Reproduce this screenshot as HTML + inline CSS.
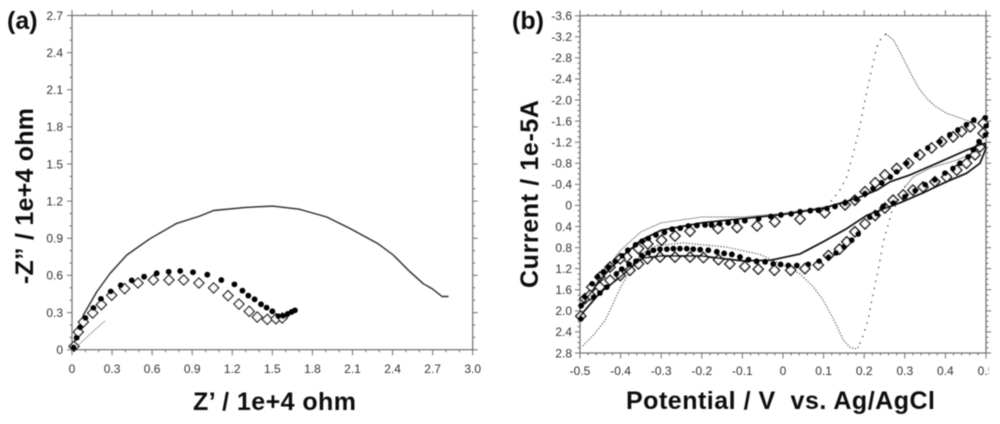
<!DOCTYPE html>
<html>
<head>
<meta charset="utf-8">
<title>Impedance and cyclic voltammetry charts</title>
<style>
html,body{margin:0;padding:0;background:#fff;width:1000px;height:424px;overflow:hidden}
svg{display:block}
text{font-family:"Liberation Sans",sans-serif}
.tick{font-size:12px;fill:#333}
.title{font-size:25px;font-weight:bold;fill:#111;white-space:pre}
</style>
</head>
<body>
<svg id="figure" xmlns="http://www.w3.org/2000/svg" width="1000" height="424" viewBox="0 0 1000 424">
<defs><filter id="soft" x="-2%" y="-2%" width="104%" height="104%"><feGaussianBlur stdDeviation="0.45"/></filter></defs>
<rect width="1000" height="424" fill="#fff"/>
<g id="root" filter="url(#soft)">
<text class="title" x="7" y="29">(a)</text>
<text class="title" x="512" y="29">(b)</text>
<text class="title" x="193" y="410" textLength="163">Z’ / 1e+4 ohm</text>
<text class="title" transform="translate(33,284) rotate(-90)" textLength="176">-Z” / 1e+4 ohm</text>
<text class="title" x="626" y="409" textLength="309" xml:space="preserve">Potential / V  vs. Ag/AgCl</text>
<text class="title" transform="translate(538,288) rotate(-90)" textLength="188">Current / 1e-5A</text>
</g>
</svg>
<script>
// Panel (a) tick labels (y labels listed bottom to top)
const aXTicks = ["0","0.3","0.6","0.9","1.2","1.5","1.8","2.1","2.4","2.7","3.0"];
const aYTicks = ["0","0.3","0.6","0.9","1.2","1.5","1.8","2.1","2.4","2.7"];
// Panel (b) tick labels (y labels listed bottom to top; the axis is inverted)
const bXTicks = ["-0.5","-0.4","-0.3","-0.2","-0.1","0","0.1","0.2","0.3","0.4","0.5"];
const bYTicks = ["2.8","2.4","2.0","1.6","1.2","0.8","0.4","0","-0.4","-0.8","-1.2","-1.6","-2.0","-2.4","-2.8","-3.2","-3.6"];

// Panel (a) series: [Z', -Z'']
const aSolid = [[0,0],[0.04,0.13],[0.085,0.28],[0.185,0.467],[0.284,0.615],[0.41,0.765],[0.584,0.897],[0.783,1.02],[0.958,1.08],[1.06,1.125],[1.3,1.15],[1.5,1.16],[1.7,1.135],[1.907,1.072],[2.08,0.98],[2.29,0.857],[2.405,0.765],[2.53,0.63],[2.63,0.533],[2.70,0.49],[2.77,0.43],[2.815,0.43]];
const aGray = [[0.02,0.01],[0.08,0.07],[0.15,0.14],[0.247,0.232]];
const aDots = [[0.012,0.02],[0.035,0.097],[0.06,0.18],[0.10,0.256],[0.16,0.337],[0.217,0.41],[0.29,0.47],[0.365,0.52],[0.447,0.56],[0.54,0.59],[0.634,0.617],[0.724,0.63],[0.81,0.636],[0.906,0.626],[1.013,0.606],[1.118,0.563],[1.216,0.528],[1.276,0.477],[1.32,0.437],[1.367,0.407],[1.415,0.367],[1.457,0.34],[1.5,0.31],[1.544,0.27],[1.58,0.272],[1.614,0.289],[1.644,0.305],[1.669,0.318]];
const aDiamonds = [[0.015,0.027],[0.047,0.143],[0.085,0.224],[0.155,0.297],[0.22,0.364],[0.297,0.44],[0.394,0.493],[0.494,0.539],[0.609,0.563],[0.726,0.563],[0.836,0.563],[0.95,0.539],[1.06,0.499],[1.168,0.437],[1.25,0.369],[1.327,0.31],[1.387,0.264],[1.462,0.245],[1.527,0.25],[1.574,0.256]];

// Panel (b) series: [potential, current]
const bSolid = [[-0.5,2.1],[-0.45,1.65],[-0.40,1.35],[-0.37,1.15],[-0.345,1.0],[-0.3,0.96],[-0.2,0.96],[-0.16,1.0],[-0.1,1.05],[-0.03,1.04],[0.042,0.92],[0.099,0.69],[0.157,0.44],[0.206,0.19],[0.288,-0.05],[0.345,-0.24],[0.403,-0.45],[0.452,-0.61],[0.485,-0.8],[0.5,-1.08],[0.498,-1.18],[0.452,-1.05],[0.379,-0.8],[0.313,-0.58],[0.264,-0.45],[0.231,-0.29],[0.18,-0.13],[0.1,0.05],[0,0.17],[-0.1,0.25],[-0.2,0.33],[-0.3,0.47],[-0.35,0.66],[-0.4,1.0],[-0.45,1.4],[-0.5,1.95]];
const bGrayRise = [[0.108,0.02],[0.14,-0.29],[0.157,-0.54],[0.172,-0.95],[0.19,-1.52],[0.202,-2.0],[0.218,-2.57],[0.231,-3.01],[0.243,-3.19],[0.254,-3.25]];
const bGrayTail = [[0.254,-3.25],[0.272,-3.14],[0.292,-2.85],[0.321,-2.41],[0.337,-2.2],[0.354,-2.03],[0.375,-1.88],[0.403,-1.75],[0.461,-1.59],[0.498,-1.53]];
const bGrayBack = [[0.5,-1.1],[0.428,-0.86],[0.362,-0.71],[0.321,-0.54],[0.3,-0.35]];
const bGrayFall = [[0.3,-0.35],[0.28,-0.04],[0.268,0.125],[0.247,0.69],[0.235,1.2],[0.224,1.6],[0.21,2.15],[0.198,2.46],[0.185,2.69]];
const bGrayValley = [[0.185,2.69],[0.177,2.72],[0.165,2.69],[0.149,2.56],[0.124,2.15],[0.099,1.8],[0.075,1.55],[0.042,1.3],[0,1.13],[-0.057,0.93],[-0.139,0.79],[-0.246,0.71],[-0.311,0.76],[-0.35,0.93],[-0.373,1.2],[-0.4,1.55],[-0.42,1.89],[-0.438,2.18],[-0.467,2.46],[-0.496,2.69]];
const bGrayUpper = [[-0.5,2.0],[-0.45,1.35],[-0.4,0.85],[-0.35,0.5],[-0.3,0.33],[-0.2,0.22],[-0.1,0.22],[0,0.15],[0.108,0.02]];
const bDotsUpper = [[0.498,-1.66],[0.470,-1.62],[0.452,-1.53],[0.431,-1.43],[0.411,-1.34],[0.387,-1.21],[0.357,-1.09],[0.329,-0.96],[0.305,-0.80],[0.280,-0.64],[0.264,-0.54],[0.243,-0.43],[0.222,-0.32],[0.202,-0.23],[0.180,-0.12],[0.153,-0.04],[0.128,0.02],[0.108,0.06],[0.087,0.09],[0.067,0.10],[0.042,0.12],[0.020,0.16],[-0.005,0.18],[-0.03,0.21],[-0.06,0.25],[-0.094,0.29],[-0.115,0.31],[-0.135,0.33],[-0.156,0.35],[-0.176,0.37],[-0.192,0.37],[-0.212,0.38],[-0.233,0.39],[-0.253,0.43],[-0.273,0.45],[-0.292,0.51],[-0.313,0.56],[-0.332,0.63],[-0.347,0.68],[-0.363,0.75],[-0.382,0.85],[-0.396,0.96],[-0.413,1.06],[-0.428,1.17],[-0.442,1.26],[-0.456,1.35],[-0.470,1.49],[-0.488,1.74],[-0.497,1.9]];
const bDotsLower = [[-0.498,2.15],[-0.467,1.74],[-0.451,1.66],[-0.434,1.55],[-0.41,1.30],[-0.397,1.21],[-0.379,1.12],[-0.362,1.06],[-0.348,0.95],[-0.332,0.90],[-0.319,0.85],[-0.303,0.83],[-0.286,0.83],[-0.27,0.82],[-0.254,0.82],[-0.237,0.82],[-0.221,0.83],[-0.204,0.84],[-0.184,0.85],[-0.163,0.88],[-0.145,0.91],[-0.126,0.93],[-0.106,0.98],[-0.085,1.03],[-0.065,1.06],[-0.044,1.07],[-0.024,1.11],[-0.006,1.12],[0.013,1.14],[0.034,1.14],[0.062,1.12],[0.089,1.06],[0.112,0.98],[0.131,0.90],[0.15,0.79],[0.169,0.66],[0.185,0.54],[0.214,0.22],[0.231,0.16],[0.247,0.02],[0.272,-0.05],[0.30,-0.17],[0.325,-0.28],[0.35,-0.39],[0.374,-0.48],[0.399,-0.61],[0.419,-0.70],[0.436,-0.80],[0.456,-0.92],[0.469,-1.05],[0.483,-1.21],[0.498,-1.34],[0.5,-1.51]];
const bDiamondsUpper = [[0.493,-1.56],[0.461,-1.49],[0.44,-1.40],[0.419,-1.30],[0.391,-1.21],[0.366,-1.09],[0.337,-0.96],[0.309,-0.80],[0.28,-0.70],[0.251,-0.58],[0.227,-0.43],[0.202,-0.26],[0.177,-0.10],[0.153,-0.01],[0.103,0.14],[0.042,0.26],[-0.02,0.31],[-0.064,0.39],[-0.113,0.42],[-0.16,0.44],[-0.229,0.49],[-0.266,0.58],[-0.299,0.66],[-0.333,0.73],[-0.356,0.82],[-0.385,0.98],[-0.401,1.01],[-0.426,1.17],[-0.451,1.36],[-0.471,1.55],[-0.488,1.77]];
const bDiamondsLower = [[-0.498,2.1],[-0.475,1.70],[-0.451,1.55],[-0.426,1.42],[-0.401,1.33],[-0.377,1.23],[-0.356,1.11],[-0.334,1.01],[-0.303,0.98],[-0.266,0.98],[-0.229,0.98],[-0.196,0.99],[-0.159,1.03],[-0.131,1.11],[-0.094,1.16],[-0.061,1.21],[-0.021,1.23],[0.019,1.23],[0.054,1.20],[0.087,1.13],[0.112,0.95],[0.139,0.83],[0.157,0.69],[0.177,0.50],[0.202,0.35],[0.227,0.19],[0.251,0.05],[0.271,-0.10],[0.296,-0.20],[0.32,-0.29],[0.345,-0.35],[0.374,-0.45],[0.403,-0.54],[0.428,-0.67],[0.452,-0.80],[0.473,-0.96],[0.485,-1.11],[0.493,-1.37]];

const NS = 'http://www.w3.org/2000/svg';
const root = document.getElementById('root');

function make(tag, attrs, parent) {
  const el = document.createElementNS(NS, tag);
  for (const k in attrs) el.setAttribute(k, attrs[k]);
  parent.appendChild(el);
  return el;
}
function group(name) {
  const g = make('g', {}, root);
  
  
  return g;
}

// Axis functions
const A = {L:72, R:472.7, T:15.5, B:349.7};
const B = {L:580, R:986, T:15.7, B:353};
const axA = {x: v => A.L + v / 3 * (A.R - A.L), y: v => A.B - v / 2.7 * (A.B - A.T)};
const axB = {x: v => B.L + (v + 0.5) * (B.R - B.L), y: v => B.T + (v + 3.6) / 6.4 * (B.B - B.T)};

function drawFrame(name, box, xLabels, yLabels, xMinor, yMinor, xBase, yRight) {
  const g = group(name + '-axes');
  const frame = make('rect', {x:box.L, y:box.T, width:box.R - box.L, height:box.B - box.T, fill:'none', stroke:'#6e6e6e', 'stroke-width':1.2}, g);
  
  
  let d = '';
  const nx = xLabels.length - 1, ny = yLabels.length - 1;
  for (let i = 0; i <= nx * xMinor; i++) {
    const px = box.L + (box.R - box.L) * i / (nx * xMinor);
    const major = i % xMinor === 0;
    d += `M${px} ${box.T}v${major ? -5.5 : -2}M${px} ${box.B}v${major ? 5.5 : 2.5}`;
  }
  for (let i = 0; i <= ny * yMinor; i++) {
    const py = box.T + (box.B - box.T) * i / (ny * yMinor);
    const major = i % yMinor === 0;
    d += `M${box.L} ${py}h${major ? -5 : -2.5}M${box.R} ${py}h${major ? 5 : 2.5}`;
  }
  const ticks = make('path', {d:d, fill:'none', stroke:'#6e6e6e', 'stroke-width':1}, g);
  
  
  xLabels.forEach((t, i) => {
    const el = make('text', {class:'tick', x:box.L + (box.R - box.L) * i / nx, y:xBase, 'text-anchor':'middle'}, g);
    el.textContent = t;
    
    
  });
  yLabels.forEach((t, i) => {
    const el = make('text', {class:'tick', x:yRight, y:box.B - (box.B - box.T) * i / ny + 4.3, 'text-anchor':'end'}, g);
    el.textContent = t;
    
    
  });
}

function drawLine(name, data, ax, stroke, width, dash) {
  const pts = data.map(p => ax.x(p[0]).toFixed(1) + ',' + ax.y(p[1]).toFixed(1)).join(' ');
  const attrs = {points:pts, fill:'none', stroke:stroke, 'stroke-width':width, 'stroke-linejoin':'round', 'stroke-linecap':'round'};
  if (dash) attrs['stroke-dasharray'] = dash;
  const el = make('polyline', attrs, root);
  
  
}
function drawDiamonds(name, data, ax, size, sw) {
  const g = group(name);
  data.forEach(p => {
    const x = ax.x(p[0]), y = ax.y(p[1]);
    const el = make('polygon', {points:`${x},${y - size} ${x + size},${y} ${x},${y + size} ${x - size},${y}`, fill:'#fff', stroke:'#111', 'stroke-width':sw}, g);
    
    
  });
}
function drawDots(name, data, ax, r) {
  const g = group(name);
  data.forEach(p => {
    const el = make('circle', {cx:ax.x(p[0]), cy:ax.y(p[1]), r:r, fill:'#050505'}, g);
    
    
  });
}

// Panel (a)
drawFrame('panel-a', A, aXTicks, aYTicks, 3, 3, 373, 63);
drawLine('panel-a-gray-dotted-series', aGray, axA, '#888', 1, '1.2 1.6');
drawLine('panel-a-solid-series', aSolid, axA, '#2c2c2c', 1.4);
drawDiamonds('panel-a-diamond-series', aDiamonds, axA, 5, 1.3);
drawDots('panel-a-filled-series', aDots, axA, 2.9);

// Panel (b)
drawFrame('panel-b', B, bXTicks, bYTicks, 5, 4, 375, 572);
drawLine('panel-b-gray-upper', bGrayUpper, axB, '#777', 1, '1 1.5');
drawLine('panel-b-gray-rise', bGrayRise, axB, '#555', 1.5, '0.1 7');
drawLine('panel-b-gray-tail', bGrayTail, axB, '#555', 1.3, '0.1 2.6');
drawLine('panel-b-gray-back', bGrayBack, axB, '#888', 1, '1.5 1');
drawLine('panel-b-gray-fall', bGrayFall, axB, '#555', 1.5, '0.1 7');
drawLine('panel-b-gray-valley', bGrayValley, axB, '#555', 1.3, '0.1 2.8');
drawDiamonds('panel-b-diamond-upper-series', bDiamondsUpper, axB, 5, 1.5);
drawDiamonds('panel-b-diamond-lower-series', bDiamondsLower, axB, 5, 1.5);
drawLine('panel-b-solid-series', bSolid, axB, '#111', 1.7);
drawDots('panel-b-filled-upper-series', bDotsUpper, axB, 2.9);
drawDots('panel-b-filled-lower-series', bDotsLower, axB, 2.9);

// The reference crops the last x label at the right edge of the figure
const crop = make('rect', {x:989, y:362, width:11, height:20, fill:'#fff'}, root);


</script>
</body>
</html>
